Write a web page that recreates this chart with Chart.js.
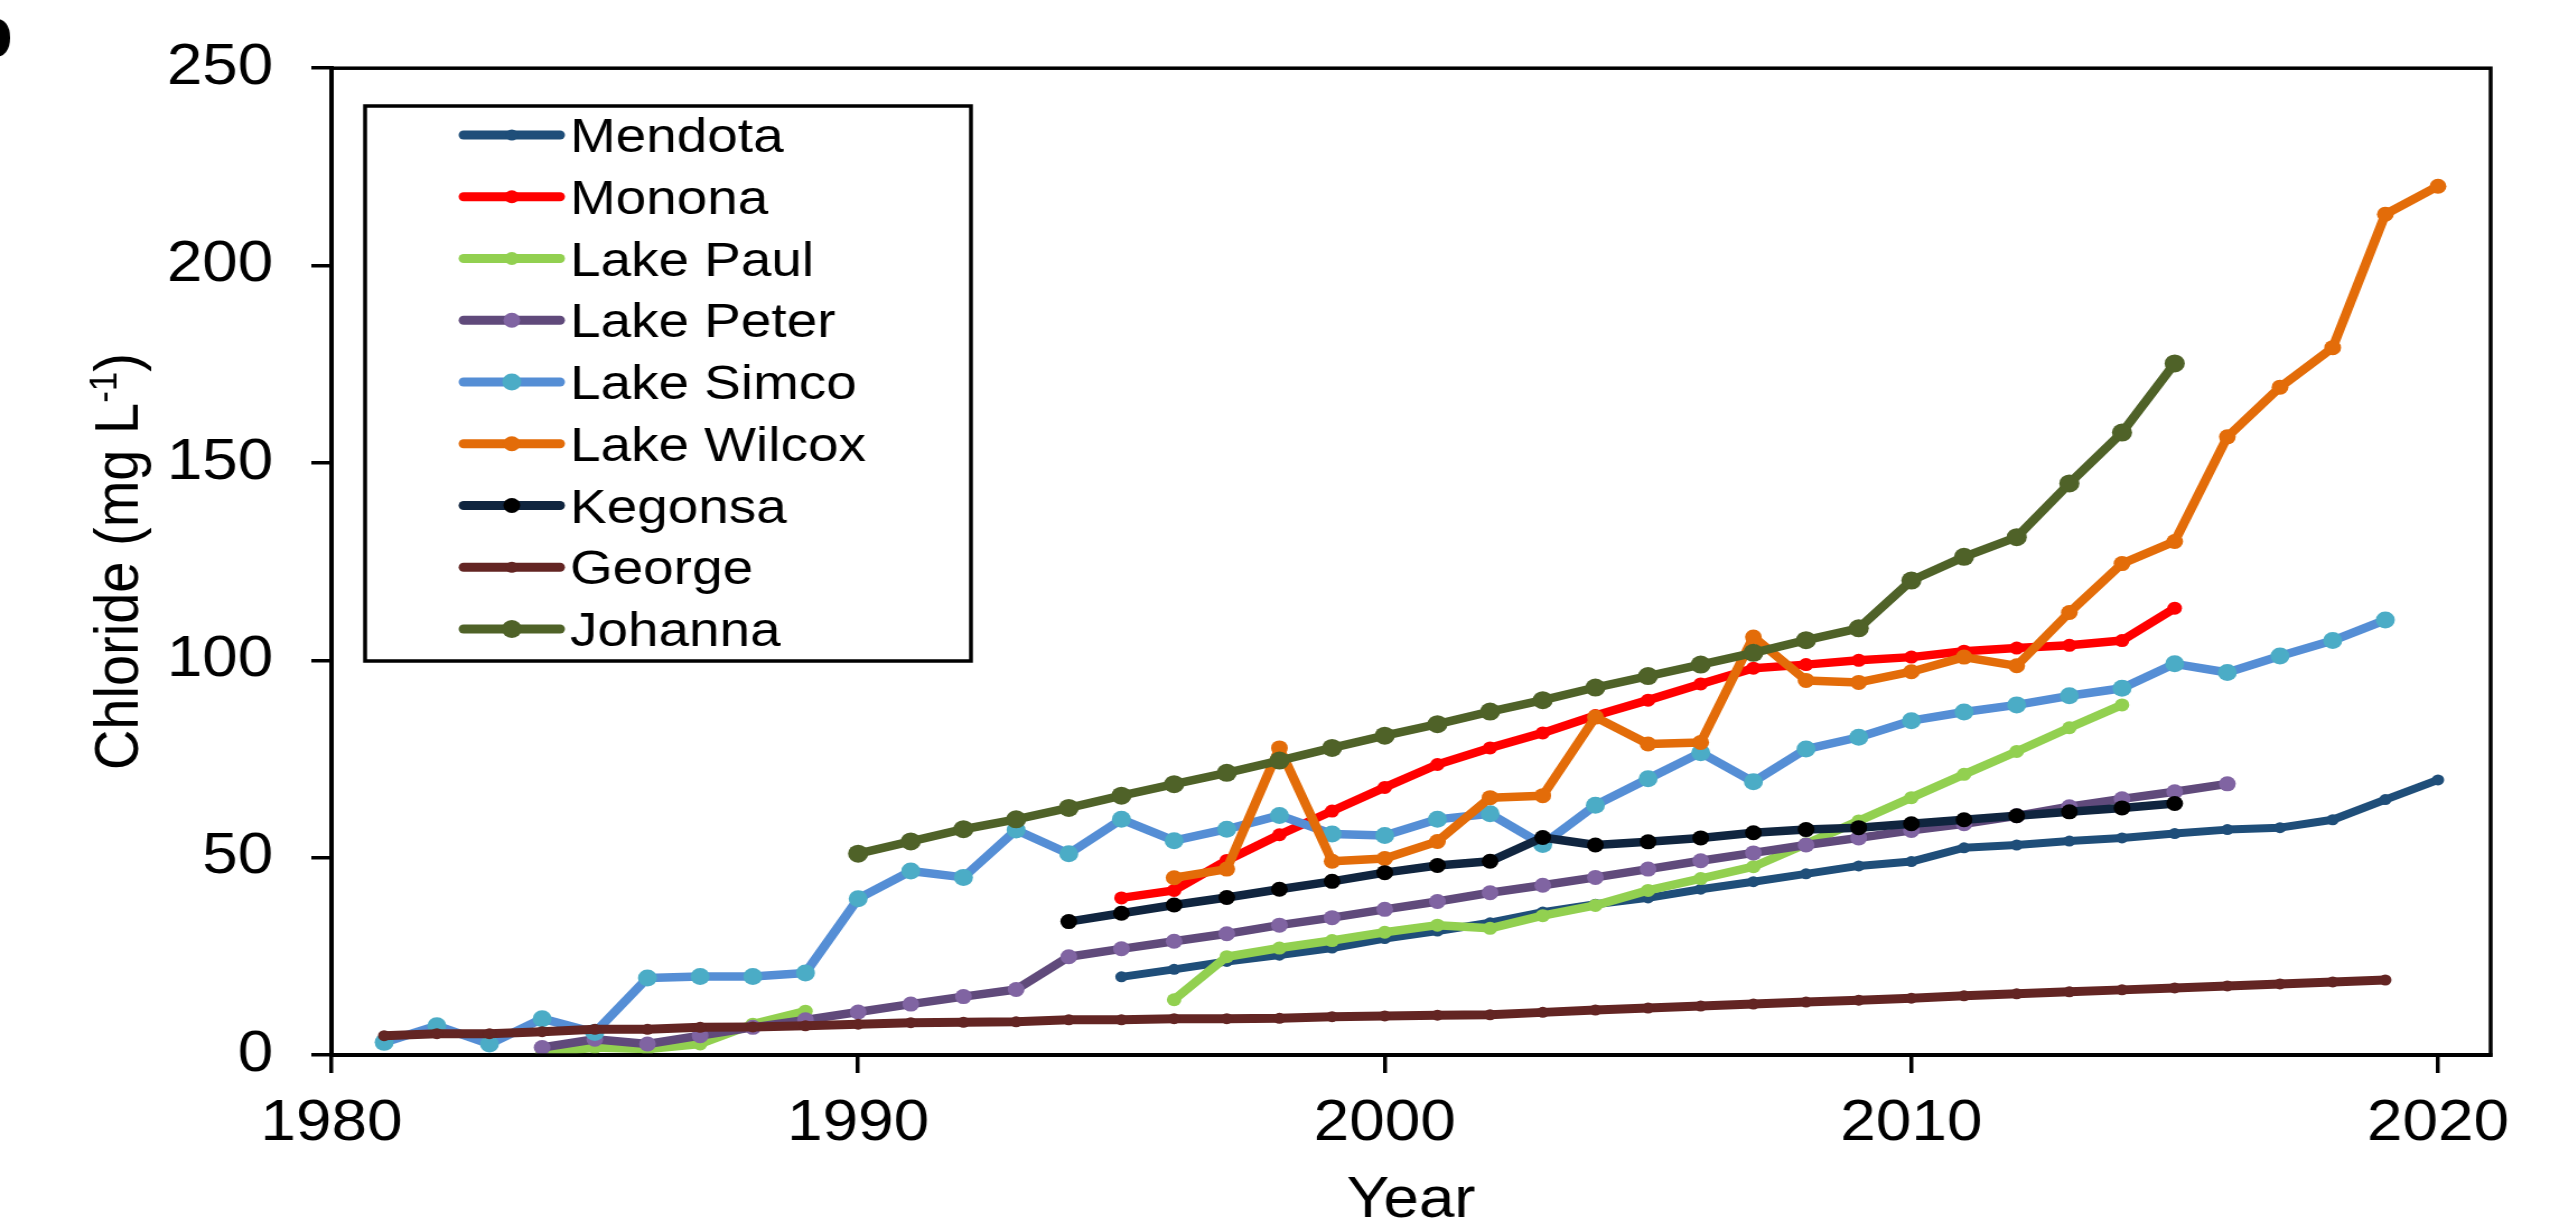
<!DOCTYPE html>
<html>
<head>
<meta charset="utf-8">
<script src="https://cdn.jsdelivr.net/npm/chart.js@4"></script>
<style>
  body { margin: 0; background: #fff; }
  #wrap { width: 2550px; height: 1230px; overflow: hidden; position: relative; background: #fff; }
  /* the original figure is stretched sideways, so the canvas is too */
  #chloride { position: absolute; left: 0; top: 0; width: 2277px; height: 1230px; transform: scaleX(1.1199); transform-origin: 0 0; }
</style>
</head>
<body>
<div id="wrap"><canvas id="chloride" width="2277" height="1230"></canvas></div>
<script>
// chloride (mg/L) per year, each series starts at its own year
var mendotaStart = 1995;
var mendota = [19.8, 21.7, 23.7, 25.3, 27.1, 29.5, 31.4, 33.5, 36.2, 38.2, 39.8, 42.0, 43.9, 45.9, 47.9, 49.0, 52.5, 53.2, 54.2, 55.0, 56.1, 57.1, 57.6, 59.6, 64.7, 69.7];

var mononaStart = 1995;
var monona = [39.8, 41.7, 49.3, 55.8, 61.8, 67.8, 73.6, 77.8, 81.6, 86.0, 89.9, 94.0, 98.0, 98.9, 100.0, 100.8, 102.3, 103.1, 103.8, 105.0, 113.2];

var lakePaulStart = 1984;
var lakePaul = [0.3, 1.9, 1.5, 2.8, 7.8, 11.1, null, null, null, null, null, null, 14.0, 24.9, 27.1, 29.0, 31.1, 32.9, 32.1, 35.3, 37.9, 41.7, 44.7, 47.7, 53.5, 59.3, 65.2, 71.1, 76.9, 82.9, 88.7];

var lakePeterStart = 1984;
var lakePeter = [1.9, 4.0, 2.8, 4.9, 7.0, 8.9, 10.9, 12.9, 14.8, 16.6, 24.9, 26.9, 28.8, 30.7, 32.9, 34.8, 36.9, 38.9, 41.1, 43.0, 45.0, 47.1, 49.2, 51.2, 53.2, 55.0, 56.9, 58.6, 60.6, 62.9, 64.9, 66.7, 68.7];

var lakeSimcoStart = 1981;
var lakeSimco = [3.2, 7.4, 2.8, 9.2, 5.7, 19.5, 19.9, 19.9, 20.8, 39.6, 46.6, 45.0, 57.0, 51.0, 59.7, 54.3, 57.2, 60.7, 56.0, 55.6, 59.7, 61.1, 53.3, 63.3, 70.0, 76.6, 69.2, 77.5, 80.5, 84.7, 86.9, 88.7, 91.0, 92.9, 99.1, 96.9, 101.1, 105.0, 110.2];

var lakeWilcoxStart = 1996;
var lakeWilcox = [44.9, 47.1, 77.8, 49.1, 49.8, 54.1, 65.2, 65.7, 85.6, 78.8, 79.2, 105.9, 94.9, 94.4, 97.1, 100.8, 98.6, 112.1, 124.5, 130.1, 156.6, 169.2, 179.2, 213.0, 220.1];

var kegonsaStart = 1994;
var kegonsa = [33.8, 35.9, 38.0, 39.9, 42.0, 44.0, 46.2, 48.0, 49.1, 55.1, 53.2, 54.0, 55.0, 56.3, 57.1, 57.6, 58.6, 59.6, 60.6, 61.6, 62.6, 63.7];

var georgeStart = 1981;
var george = [4.9, 5.4, 5.4, 5.9, 6.5, 6.5, 7.0, 7.1, 7.4, 7.8, 8.2, 8.3, 8.4, 8.9, 8.9, 9.2, 9.2, 9.3, 9.7, 9.9, 10.1, 10.2, 10.8, 11.4, 11.9, 12.4, 12.9, 13.4, 13.9, 14.4, 15.0, 15.5, 16.0, 16.5, 17.0, 17.5, 18.0, 18.5, 19.0];

var johannaStart = 1990;
var johanna = [51.0, 54.1, 57.2, 59.7, 62.6, 65.7, 68.6, 71.5, 74.6, 77.8, 80.9, 83.8, 87.0, 89.9, 93.1, 96.0, 98.9, 101.9, 105.1, 108.1, 120.2, 126.2, 131.2, 144.8, 157.7, 175.2];

var lakeNames = ['Mendota', 'Monona', 'Lake Paul', 'Lake Peter', 'Lake Simco', 'Lake Wilcox', 'Kegonsa', 'George', 'Johanna'];
var xTicks = [1980, 1990, 2000, 2010, 2020];
var yTicks = [0, 50, 100, 150, 200, 250];

// styles
var lineColors = ['#1F4E79', '#FF0000', '#92D050', '#604A7B', '#558ED5', '#E36C09', '#10253F', '#632523', '#4F6228'];
var markerColors = ['#1F4E79', '#FF0000', '#92D050', '#8064A2', '#4BACC6', '#E36C09', '#000000', '#632523', '#4F6228'];
var markerSizes = [5.5, 6.5, 6.5, 7.5, 8.5, 7.5, 7.5, 5.5, 9];
var lineWidths = [8, 8.5, 8.5, 8.5, 8.5, 8.5, 8.5, 9, 8.5];

var ff = "'Liberation Sans', Arial, sans-serif";

var series = [mendota, monona, lakePaul, lakePeter, lakeSimco, lakeWilcox, kegonsa, george, johanna];
var starts = [mendotaStart, mononaStart, lakePaulStart, lakePeterStart, lakeSimcoStart, lakeWilcoxStart, kegonsaStart, georgeStart, johannaStart];

var datasets = series.map(function(vals, i) {
	return {
		label: lakeNames[i],
		data: vals.map(function(v, j) { return {x: starts[i] + j, y: v}; }),
		borderColor: lineColors[i],
		backgroundColor: markerColors[i],
		pointBackgroundColor: markerColors[i],
		pointBorderColor: markerColors[i],
		pointBorderWidth: 0,
		pointRadius: markerSizes[i],
		borderWidth: lineWidths[i],
		borderJoinStyle: 'round',
		borderCapStyle: 'round',
		tension: 0,
		spanGaps: false,
		order: series.length - i
	};
});

// box round the plot, the legend, the y title and the cut-off panel letter
var extras = {
	id: 'extras',
	afterDraw: function(chart) {
		var ctx = chart.ctx;
		var a = chart.chartArea;
		ctx.save();
		ctx.strokeStyle = '#000';
		ctx.lineWidth = 3.5;
		ctx.strokeRect(a.left, a.top, a.right - a.left, a.bottom - a.top);

		// legend
		var lx = 326, ly = 106, lw = 541, lh = 555;
		ctx.fillStyle = '#fff';
		ctx.fillRect(lx, ly, lw, lh);
		ctx.strokeRect(lx, ly, lw, lh);
		ctx.font = '49px ' + ff;
		ctx.textAlign = 'left';
		ctx.textBaseline = 'alphabetic';
		chart.data.datasets.forEach(function(ds, i) {
			var cy = 135 + i * 61.75;
			ctx.strokeStyle = ds.borderColor;
			ctx.lineWidth = 9;
			ctx.lineCap = 'round';
			ctx.beginPath();
			ctx.moveTo(414, cy);
			ctx.lineTo(500, cy);
			ctx.stroke();
			ctx.fillStyle = ds.pointBackgroundColor;
			ctx.beginPath();
			ctx.arc(457, cy, ds.pointRadius, 0, Math.PI * 2);
			ctx.fill();
			ctx.fillStyle = '#000';
			ctx.fillText(ds.label, 509, cy + 17);
		});

		// y axis title with superscript
		var main = 'Chloride (mg L', sup = '-1', close = ')';
		ctx.font = '56px ' + ff;
		var w1 = ctx.measureText(main).width;
		var w3 = ctx.measureText(close).width;
		ctx.font = '35px ' + ff;
		var w2 = ctx.measureText(sup).width;
		var total = w1 + w2 + w3;
		ctx.translate(123, (a.top + a.bottom) / 2);
		ctx.rotate(-Math.PI / 2);
		ctx.fillStyle = '#000';
		ctx.textAlign = 'left';
		ctx.font = '56px ' + ff;
		ctx.fillText(main, -total / 2, 0);
		ctx.font = '35px ' + ff;
		ctx.fillText(sup, -total / 2 + w1, -19);
		ctx.font = '56px ' + ff;
		ctx.fillText(close, -total / 2 + w1 + w2, 0);
		ctx.restore();

		// panel letter, mostly off the left edge
		ctx.save();
		ctx.fillStyle = '#000';
		ctx.font = 'bold 72px ' + ff;
		ctx.textAlign = 'right';
		ctx.fillText('b', 12, 57);
		ctx.restore();
	}
};

var ctx = document.getElementById('chloride');

var lineChart = new Chart(ctx, {
	type: 'line',
	data: { datasets: datasets },
	plugins: [extras],
	options: {
		responsive: false,
		animation: false,
		devicePixelRatio: 1,
		layout: { padding: { top: 63, right: 53, bottom: 0, left: 0 } },
		plugins: {
			legend: { display: false },
			tooltip: { enabled: false }
		},
		scales: {
			x: {
				type: 'linear',
				min: 1980,
				max: 2021,
				afterBuildTicks: function(scale) {
					scale.ticks = xTicks.map(function(v) { return {value: v}; });
				},
				afterFit: function(scale) { scale.height = 175; },
				ticks: {
					color: '#000',
					font: { family: ff, size: 57 },
					padding: 17,
					maxRotation: 0,
					autoSkip: false,
					callback: function(v) { return String(v); }
				},
				grid: { drawOnChartArea: false, drawTicks: true, tickLength: 18, color: '#000', lineWidth: 3.5 },
				border: { display: true, color: '#000', width: 4 },
				title: { display: true, text: 'Year', color: '#000', font: { family: ff, size: 57, lineHeight: 1 }, padding: 0 }
			},
			y: {
				type: 'linear',
				min: 0,
				max: 250,
				afterBuildTicks: function(scale) {
					scale.ticks = yTicks.map(function(v) { return {value: v}; });
				},
				afterFit: function(scale) { scale.width = 296; },
				ticks: {
					color: '#000',
					font: { family: ff, size: 57 },
					padding: 34
				},
				grid: { drawOnChartArea: false, drawTicks: true, tickLength: 18, color: '#000', lineWidth: 3.5 },
				border: { display: true, color: '#000', width: 4 }
			}
		}
	}
});
</script>
</body>
</html>
